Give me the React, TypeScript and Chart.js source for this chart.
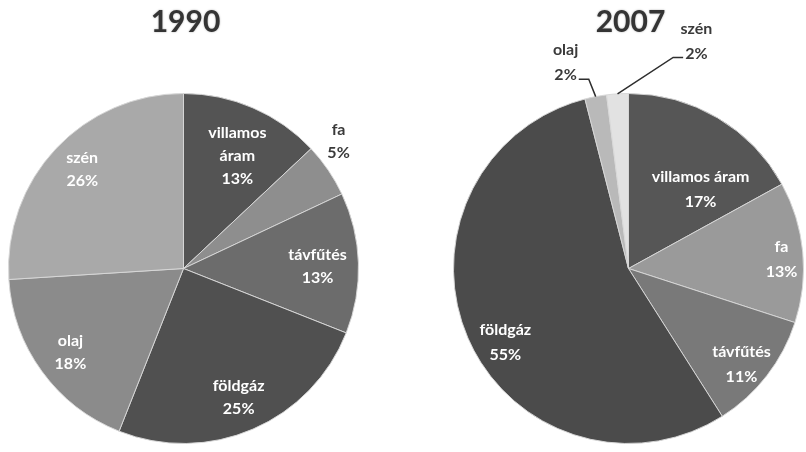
import { useEffect, useRef } from 'react';
import { Chart, registerables } from 'chart.js';

Chart.register(...registerables);

// Household energy mix, share of each source (%)
const categories = ['villamos áram', 'fa', 'távfűtés', 'földgáz', 'olaj', 'szén'];
const values1990 = [13, 5, 13, 25, 18, 26];
const values2007 = [17, 13, 11, 55, 2, 2];
const years = ['1990', '2007'];

const colors1990 = ['#545454', '#8e8e8e', '#6c6c6c', '#505050', '#8b8b8b', '#a9a9a9'];
const colors2007 = ['#565656', '#9a9a9a', '#797979', '#4b4b4b', '#b9b9b9', '#e2e2e2'];

// label placement: distance from centre (share of radius) and angle nudge (degrees)
const radial1990 = [0.715, 1.145, 0.766, 0.8, 0.805, 0.81];
const nudge1990 = [2.1, -5.1, 0.9, 0.2, -0.6, 1.2];
const radial2007 = [0.61, 0.876, 0.845, 0.82, 1.23, 1.357];
const nudge2007 = [11.9, 1.8, 2.4, -7.5, -6.2, 20.2];
const leaders2007 = [false, false, false, false, true, true];

const FONT = 'Lato, "Open Sans", sans-serif';

type LabelOpts = {
  title: string;
  radial: number[];
  nudge: number[];
  leaders: boolean[];
  wrapWidth: number;
  lineHeight: number;
};

function wrapName(ctx: CanvasRenderingContext2D, name: string, maxW: number): string[] {
  if (ctx.measureText(name).width <= maxW) return [name];
  return name.split(' ');
}

const sliceLabels = {
  id: 'sliceLabels',
  afterDatasetsDraw(chart: any, _args: any, opts: LabelOpts) {
    const ctx: CanvasRenderingContext2D = chart.ctx;
    const meta = chart.getDatasetMeta(0);
    const data = chart.data.datasets[0].data as number[];
    const names = chart.data.labels as string[];
    ctx.save();
    let cx = 0;
    meta.data.forEach((arc: any, i: number) => {
      const p = arc.getProps(['x', 'y', 'startAngle', 'endAngle', 'outerRadius'], true);
      cx = p.x;
      const midBase = (p.startAngle + p.endAngle) / 2;
      const mid = midBase + (opts.nudge[i] * Math.PI) / 180;
      const r = p.outerRadius * opts.radial[i];
      const lx = p.x + Math.cos(mid) * r;
      const ly = p.y + Math.sin(mid) * r;
      const outside = opts.radial[i] > 1;
      ctx.font = `bold 16px ${FONT}`;
      const lines = [...wrapName(ctx, names[i], opts.wrapWidth), `${data[i]}%`];
      const lh = opts.lineHeight;
      const y0 = ly - ((lines.length - 1) * lh) / 2;
      ctx.fillStyle = outside ? '#3a3a3a' : '#ffffff';
      ctx.textAlign = 'center';
      ctx.textBaseline = 'middle';
      lines.forEach((t, k) => ctx.fillText(t, lx, y0 + k * lh));

      if (opts.leaders[i]) {
        const ex = p.x + Math.cos(midBase) * p.outerRadius;
        const ey = p.y + Math.sin(midBase) * p.outerRadius;
        const lastW = ctx.measureText(lines[lines.length - 1]).width;
        const ty = y0 + (lines.length - 1) * lh + 4;
        const toRight = ex > lx;
        const sx = toRight ? lx + lastW / 2 + 2 : lx - lastW / 2 - 2;
        const kx = toRight ? sx + 10 : sx - 10;
        ctx.strokeStyle = '#2e2e2e';
        ctx.lineWidth = 1.5;
        ctx.beginPath();
        ctx.moveTo(sx, ty);
        ctx.lineTo(kx, ty);
        ctx.lineTo(ex, ey);
        ctx.stroke();
      }
    });

    // year heading above the pie
    ctx.font = `bold 30px ${FONT}`;
    ctx.fillStyle = '#343434';
    ctx.textAlign = 'center';
    ctx.textBaseline = 'middle';
    ctx.shadowColor = 'rgba(0,0,0,0.35)';
    ctx.shadowBlur = 2;
    ctx.fillText(opts.title, cx + 2, 22);
    ctx.restore();
  },
};

type PieProps = {
  title: string;
  values: number[];
  colors: string[];
  radial: number[];
  nudge: number[];
  leaders: boolean[];
  wrapWidth: number;
  lineHeight: number;
  left: number;
  padding: { left: number; right: number; top: number; bottom: number };
};

function EnergyPie(props: PieProps) {
  const ref = useRef<HTMLCanvasElement | null>(null);
  useEffect(() => {
    if (!ref.current) return;
    const chart = new Chart(ref.current, {
      type: 'pie',
      data: {
        labels: categories,
        datasets: [
          {
            data: props.values,
            backgroundColor: props.colors,
            borderColor: 'rgba(215,215,215,0.95)',
            borderWidth: 1,
          },
        ],
      },
      options: {
        responsive: false,
        animation: false,
        devicePixelRatio: 1,
        layout: { padding: props.padding },
        plugins: {
          legend: { display: false },
          tooltip: { enabled: false },
          sliceLabels: {
            title: props.title,
            radial: props.radial,
            nudge: props.nudge,
            leaders: props.leaders,
            wrapWidth: props.wrapWidth,
            lineHeight: props.lineHeight,
          },
        } as any,
      },
      plugins: [sliceLabels as any],
    });
    return () => chart.destroy();
  }, []);
  return (
    <canvas
      ref={ref}
      width={403}
      height={452}
      style={{ position: 'absolute', left: props.left, top: 0, width: 403, height: 452 }}
    />
  );
}

export default function App() {
  return (
    <div
      style={{
        position: 'fixed',
        left: 0,
        top: 0,
        width: 806,
        height: 452,
        background: '#ffffff',
        overflow: 'hidden',
      }}
    >
      <EnergyPie
        title={years[0]}
        values={values1990}
        colors={colors1990}
        radial={radial1990}
        nudge={nudge1990}
        leaders={[false, false, false, false, false, false]}
        wrapWidth={80}
        lineHeight={23}
        left={0}
        padding={{ left: 8, right: 44, top: 93, bottom: 8 }}
      />
      <EnergyPie
        title={years[1]}
        values={values2007}
        colors={colors2007}
        radial={radial2007}
        nudge={nudge2007}
        leaders={leaders2007}
        wrapWidth={200}
        lineHeight={25}
        left={403}
        padding={{ left: 50, right: 2, top: 93, bottom: 8 }}
      />
    </div>
  );
}
